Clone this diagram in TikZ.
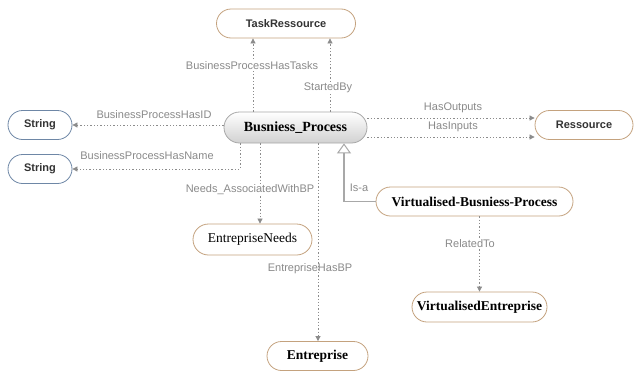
\documentclass[tikz,border=0pt]{standalone}
\usepackage{fontspec}
\setmainfont{Liberation Serif}
\setsansfont{Liberation Sans}
\usetikzlibrary{arrows.meta}
\definecolor{tanc}{HTML}{C4A27E}
\definecolor{bluec}{HTML}{6E87A6}
\definecolor{edgec}{HTML}{8C8C8C}
\definecolor{labc}{HTML}{8A8A8A}
\definecolor{bpborder}{HTML}{A8A8A8}
\begin{document}
\begin{tikzpicture}[x=1pt,y=-1pt,
 pill/.style={rectangle, rounded corners=14.5pt, minimum height=29pt, inner sep=0pt, line width=0.8pt, fill=white},
 tanpill/.style={pill, draw=tanc},
 bluepill/.style={pill, draw=bluec},
 sansb/.style={font=\sffamily\bfseries\fontsize{11}{13}\selectfont, text=black!80},
 serifb/.style={font=\rmfamily\bfseries\fontsize{13.5}{16}\selectfont},
 serifr/.style={font=\rmfamily\fontsize{13.5}{16}\selectfont},
 rel/.style={draw=edgec, line width=0.75pt, dash pattern=on 1.3pt off 2pt, -{Triangle[length=5pt,width=5pt]}},
 lab/.style={font=\sffamily\fontsize{11}{13}\selectfont, text=labc, inner sep=0.5pt, fill=white},
 isa/.style={draw=bpborder, line width=1.4pt, -{Triangle[open,length=10pt,width=14pt,line width=1pt]}}
]
\useasboundingbox[fill=white] (0,0) rectangle (636,375);

% nodes
\node[tanpill, sansb, minimum width=139pt] (TR) at (286,23.5) {TaskRessource};
\node[pill, draw=bpborder, top color=white, bottom color=black!18, font=\rmfamily\bfseries\fontsize{14}{16}\selectfont, minimum width=143pt, minimum height=31pt, rounded corners=15.5pt] (BP) at (295.5,127.5) {Busniess\_Process};
\node[bluepill, sansb, minimum width=64pt] (S1) at (40,125) {String};
\node[bluepill, sansb, minimum width=64pt] (S2) at (40,169) {String};
\node[tanpill, sansb, minimum width=98pt] (R) at (584,125) {Ressource};
\node[tanpill, serifb, minimum width=197pt] (VBP) at (474.5,201.5) {Virtualised-Busniess-Process};
\node[tanpill, serifr, minimum width=119pt, minimum height=31pt, rounded corners=15.5pt] (EN) at (252.5,239.5) {EntrepriseNeeds};
\node[tanpill, serifb, minimum width=135pt, minimum height=30pt, rounded corners=15pt] (VE) at (479.5,307) {VirtualisedEntreprise};
\node[tanpill, serifb, minimum width=101pt] (E) at (317.5,356) {Entreprise};

% helper coordinates
\coordinate (xT1) at (253,0);
\coordinate (xT2) at (330,0);
\coordinate (xName) at (240,0);
\coordinate (xNeeds) at (260,0);
\coordinate (xEHB) at (318,0);
\coordinate (xIsa) at (344,0);
\coordinate (yOut) at (0,118);
\coordinate (yIn) at (0,137);

% connectors
\draw[rel] (BP.north -| xT1) -- (TR.south -| xT1);
\draw[rel] (BP.north -| xT2) -- (TR.south -| xT2);
\draw[rel] (BP.west |- S1.east) -- (S1.east);
\draw[rel] (BP.south -| xName) |- (S2.east);
\draw[rel] (BP.south -| xNeeds) -- (EN.north -| xNeeds);
\draw[rel] (BP.east |- yOut) -- (R.west |- yOut);
\draw[rel] (BP.east |- yIn) -- (R.west |- yIn);
\draw[isa] (VBP.west) -| (BP.south -| xIsa);
\draw[rel] (VBP.south -| VE.north) -- (VE.north);

% labels
\node[lab] (l1) at (252,66) {BusinessProcessHasTasks};
\node[lab] (l2) at (328,88) {StartedBy};
\node[lab] (l3) at (154,115) {BusinessProcessHasID};
\node[lab] (l4) at (147,156) {BusinessProcessHasName};
\node[lab] (l5) at (250,190) {Needs\_AssociatedWithBP};
\node[lab] (l6) at (310,269) {EntrepriseHasBP};
\node[lab] (l7) at (453,108) {HasOutputs};
\node[lab] (l8) at (453,127) {HasInputs};
\node[lab] (l9) at (359,188) {Is-a};
\node[lab] (l10) at (470,244) {RelatedTo};

\draw[rel] (BP.south -| xEHB) -- (E.north -| xEHB);
\end{tikzpicture}
\end{document}
